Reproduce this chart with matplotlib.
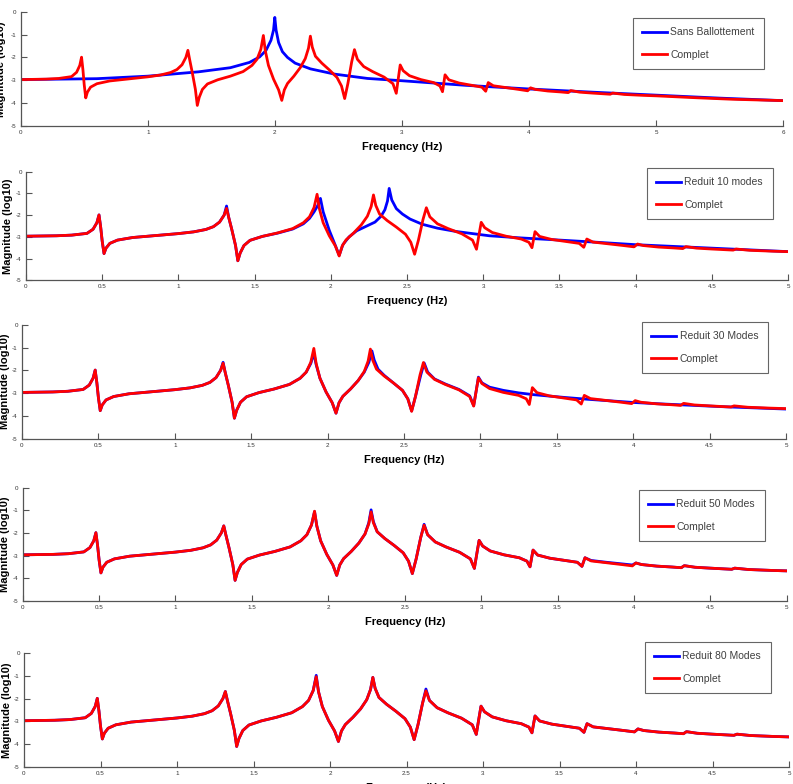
import matplotlib
matplotlib.use('Agg')
import matplotlib.pyplot as plt
from matplotlib.ticker import FuncFormatter

# "Complet" response, shared by every panel
freq_complet = [0.00, 0.20, 0.30, 0.40, 0.44, 0.465, 0.479, 0.490, 0.500, 0.512,
                0.525, 0.55, 0.60, 0.70, 0.80, 0.90, 1.00, 1.10, 1.18, 1.23,
                1.27, 1.30, 1.316, 1.33, 1.35, 1.375, 1.39, 1.405, 1.43, 1.47,
                1.55, 1.65, 1.75, 1.82, 1.86, 1.89, 1.91, 1.925, 1.95, 1.99,
                2.03, 2.055, 2.075, 2.10, 2.15, 2.20, 2.24, 2.265, 2.28, 2.295,
                2.32, 2.37, 2.43, 2.49, 2.525, 2.55, 2.575, 2.605, 2.627, 2.65,
                2.70, 2.77, 2.86, 2.93, 2.956, 2.975, 2.987, 3.01, 3.06, 3.15,
                3.25, 3.30, 3.32, 3.34, 3.37, 3.45, 3.55, 3.63, 3.66, 3.68,
                3.72, 3.82, 3.92, 3.99, 4.013, 4.05, 4.15, 4.25, 4.31, 4.33,
                4.40, 4.50, 4.64, 4.66, 4.75, 4.90, 5.00, 5.30, 5.60, 6.00]
mag_complet = [-2.97, -2.95, -2.92, -2.84, -2.65, -2.35, -1.99, -2.55, -3.20, -3.77,
               -3.52, -3.30, -3.15, -3.03, -2.97, -2.91, -2.85, -2.77, -2.66, -2.53,
               -2.32, -2.00, -1.69, -2.10, -2.65, -3.40, -4.10, -3.75, -3.40, -3.16,
               -2.98, -2.82, -2.62, -2.35, -2.08, -1.65, -1.04, -1.70, -2.35, -2.95,
               -3.42, -3.88, -3.42, -3.14, -2.82, -2.45, -2.05, -1.60, -1.07, -1.55,
               -1.95, -2.25, -2.55, -2.88, -3.25, -3.80, -3.15, -2.20, -1.66, -2.08,
               -2.40, -2.62, -2.86, -3.15, -3.57, -2.80, -2.33, -2.58, -2.80, -2.97,
               -3.10, -3.25, -3.50, -2.76, -2.98, -3.12, -3.22, -3.30, -3.48, -3.10,
               -3.24, -3.32, -3.40, -3.46, -3.33, -3.40, -3.47, -3.51, -3.54, -3.45,
               -3.52, -3.56, -3.61, -3.56, -3.62, -3.66, -3.68, -3.76, -3.83, -3.89]

# Sans Ballottement
freq_sans = [0.0, 0.6, 1.0, 1.4, 1.65, 1.80, 1.88, 1.93, 1.97, 1.99,
             2.0, 2.01, 2.03, 2.06, 2.10, 2.16, 2.28, 2.47, 2.73, 3.0,
             3.5, 4.0, 4.5, 5.0, 5.5, 6.0]
mag_sans = [-2.97, -2.93, -2.82, -2.63, -2.45, -2.22, -1.98, -1.70, -1.25, -0.80,
            -0.25, -0.80, -1.35, -1.75, -2.00, -2.25, -2.50, -2.73, -2.92, -3.02,
            -3.22, -3.38, -3.52, -3.65, -3.78, -3.89]

# Reduit 10 modes
freq_r10 = [0.00, 0.20, 0.30, 0.40, 0.44, 0.465, 0.479, 0.490, 0.500, 0.512,
            0.525, 0.55, 0.60, 0.70, 0.80, 0.90, 1.00, 1.10, 1.18, 1.23,
            1.27, 1.30, 1.316, 1.33, 1.35, 1.375, 1.39, 1.405, 1.43, 1.47,
            1.55, 1.65, 1.75, 1.82, 1.86, 1.89, 1.915, 1.932, 1.95, 1.99,
            2.03, 2.055, 2.08, 2.12, 2.17, 2.23, 2.29, 2.33, 2.355, 2.372,
            2.383, 2.40, 2.43, 2.47, 2.52, 2.60, 2.70, 2.82, 3.04, 3.25,
            3.48, 3.75, 4.00, 4.50, 5.00]
mag_r10 = [-2.97, -2.95, -2.92, -2.84, -2.65, -2.35, -1.99, -2.55, -3.20, -3.77,
           -3.52, -3.30, -3.15, -3.03, -2.97, -2.91, -2.85, -2.77, -2.66, -2.53,
           -2.32, -2.00, -1.58, -2.10, -2.65, -3.40, -4.10, -3.75, -3.40, -3.16,
           -2.98, -2.83, -2.64, -2.40, -2.15, -1.85, -1.55, -1.23, -1.85, -2.70,
           -3.40, -3.85, -3.35, -3.00, -2.72, -2.52, -2.32, -2.05, -1.75, -1.35,
           -0.77, -1.30, -1.70, -1.95, -2.18, -2.42, -2.60, -2.75, -2.95, -3.05,
           -3.14, -3.25, -3.36, -3.52, -3.68]

# Reduit 30 Modes
freq_r30 = [0.00, 0.20, 0.30, 0.40, 0.44, 0.465, 0.479, 0.490, 0.500, 0.512,
            0.525, 0.55, 0.60, 0.70, 0.80, 0.90, 1.00, 1.10, 1.18, 1.23,
            1.27, 1.30, 1.316, 1.33, 1.35, 1.375, 1.39, 1.405, 1.43, 1.47,
            1.55, 1.65, 1.75, 1.82, 1.86, 1.89, 1.91, 1.925, 1.95, 1.99,
            2.03, 2.055, 2.075, 2.10, 2.15, 2.20, 2.24, 2.27, 2.29, 2.305,
            2.33, 2.37, 2.43, 2.49, 2.525, 2.55, 2.575, 2.61, 2.632, 2.655,
            2.70, 2.77, 2.86, 2.93, 2.956, 2.975, 2.987, 3.01, 3.06, 3.15,
            3.25, 3.35, 3.45, 3.55, 3.70, 3.85, 4.00, 4.20, 4.40, 4.60,
            4.80, 5.00]
mag_r30 = [-2.97, -2.95, -2.92, -2.84, -2.65, -2.35, -1.99, -2.55, -3.20, -3.77,
           -3.52, -3.30, -3.15, -3.03, -2.97, -2.91, -2.85, -2.77, -2.66, -2.53,
           -2.32, -2.00, -1.65, -2.10, -2.65, -3.40, -4.10, -3.75, -3.40, -3.16,
           -2.98, -2.82, -2.62, -2.35, -2.08, -1.70, -1.25, -1.75, -2.35, -2.95,
           -3.42, -3.88, -3.42, -3.14, -2.82, -2.45, -2.08, -1.65, -1.15, -1.55,
           -1.95, -2.22, -2.55, -2.88, -3.25, -3.78, -3.15, -2.20, -1.68, -2.08,
           -2.38, -2.60, -2.84, -3.12, -3.55, -2.80, -2.30, -2.55, -2.74, -2.88,
           -2.99, -3.07, -3.13, -3.19, -3.27, -3.34, -3.41, -3.48, -3.54, -3.60,
           -3.65, -3.70]

# Reduit 50 Modes (same grid as Complet)
mag_r50 = [-2.97, -2.95, -2.92, -2.84, -2.65, -2.35, -1.99, -2.55, -3.20, -3.77,
           -3.52, -3.30, -3.15, -3.03, -2.97, -2.91, -2.85, -2.77, -2.66, -2.53,
           -2.32, -2.00, -1.69, -2.10, -2.65, -3.40, -4.10, -3.75, -3.40, -3.16,
           -2.98, -2.82, -2.62, -2.35, -2.08, -1.65, -1.06, -1.70, -2.35, -2.95,
           -3.42, -3.88, -3.42, -3.14, -2.82, -2.45, -2.05, -1.55, -0.98, -1.50,
           -1.95, -2.25, -2.55, -2.88, -3.25, -3.80, -3.15, -2.20, -1.62, -2.08,
           -2.40, -2.62, -2.86, -3.15, -3.57, -2.80, -2.33, -2.58, -2.80, -2.97,
           -3.10, -3.25, -3.50, -2.76, -2.98, -3.12, -3.22, -3.30, -3.48, -3.10,
           -3.22, -3.30, -3.37, -3.42, -3.33, -3.40, -3.47, -3.51, -3.54, -3.45,
           -3.52, -3.56, -3.61, -3.56, -3.62, -3.66, -3.68, -3.76, -3.83, -3.89]

# Reduit 80 Modes (same grid as Complet)
mag_r80 = [-2.97, -2.95, -2.92, -2.84, -2.65, -2.35, -1.99, -2.55, -3.20, -3.77,
           -3.52, -3.30, -3.15, -3.03, -2.97, -2.91, -2.85, -2.77, -2.66, -2.53,
           -2.32, -2.00, -1.69, -2.10, -2.65, -3.40, -4.10, -3.75, -3.40, -3.16,
           -2.98, -2.82, -2.62, -2.35, -2.08, -1.65, -0.98, -1.70, -2.35, -2.95,
           -3.42, -3.88, -3.42, -3.14, -2.82, -2.45, -2.05, -1.60, -1.07, -1.55,
           -1.95, -2.25, -2.55, -2.88, -3.25, -3.80, -3.15, -2.20, -1.58, -2.08,
           -2.40, -2.62, -2.86, -3.15, -3.57, -2.80, -2.33, -2.58, -2.80, -2.97,
           -3.10, -3.25, -3.50, -2.76, -2.98, -3.12, -3.22, -3.30, -3.48, -3.10,
           -3.24, -3.32, -3.40, -3.46, -3.33, -3.40, -3.47, -3.51, -3.54, -3.45,
           -3.52, -3.56, -3.61, -3.56, -3.62, -3.66, -3.68, -3.76, -3.83, -3.89]

blue_labels = ['Sans Ballottement', 'Reduit 10 modes', 'Reduit 30 Modes',
               'Reduit 50 Modes', 'Reduit 80 Modes']
blue_freqs = [freq_sans, freq_r10, freq_r30, freq_complet, freq_complet]
blue_mags = [mag_sans, mag_r10, mag_r30, mag_r50, mag_r80]
x_max = [6, 5, 5, 5, 5]
x_step = [1, 0.5, 0.5, 0.5, 0.5]
y_ticks = [-5, -4, -3, -2, -1, 0]

plt.rcParams['font.family'] = ['Liberation Sans', 'DejaVu Sans']
plt.rcParams['axes.unicode_minus'] = False

W, H = 793, 784
fig = plt.figure(figsize=(W / 100, H / 100), dpi=100)

# axes boxes in pixels: left, top, right, bottom
boxes = [(20.7, 11.7, 783, 126), (26, 171.7, 788, 280.3), (22, 324.7, 786, 438.7),
         (22.7, 487.7, 786.7, 600.7), (24, 653, 789, 767)]
legend_xy = [(633, 18), (647, 168), (642, 322), (639, 490), (645, 642)]
ylab_off = [15, 13, 12, 13, 12]

axis_grey = '#555555'
fmt = FuncFormatter(lambda v, p: '%g' % v)

for i in range(5):
    l, t, r, b = boxes[i]
    ax = fig.add_axes([l / W, 1 - b / H, (r - l) / W, (b - t) / H])
    ax.plot(blue_freqs[i], blue_mags[i], color='#0000ff', lw=2, label=blue_labels[i])
    ax.plot(freq_complet, mag_complet, color='#ff0000', lw=2, label='Complet')
    ax.set_xlim(0, x_max[i])
    ax.set_ylim(-5, 0)
    n = int(round(x_max[i] / x_step[i]))
    ax.set_xticks([k * x_step[i] for k in range(n + 1)])
    ax.set_yticks(y_ticks)
    ax.xaxis.set_major_formatter(fmt)
    ax.yaxis.set_major_formatter(fmt)
    for s in ['top', 'right']:
        ax.spines[s].set_visible(False)
    for s in ['left', 'bottom']:
        ax.spines[s].set_color(axis_grey)
        ax.spines[s].set_linewidth(0.9)
    ax.tick_params(direction='in', length=4, width=0.8, color=axis_grey,
                   labelsize=4.5, labelcolor='#333333', pad=3)
    ax.set_xlabel('Frequency (Hz)', fontsize=8, fontweight='bold', va='top')
    ax.xaxis.set_label_coords(0.5, -16 / (b - t))
    ax.set_ylabel('Magnitude (log10)', fontsize=8, fontweight='bold')
    ax.yaxis.set_label_coords(-ylab_off[i] / (r - l), 0.5)
    lx, ly = legend_xy[i]
    leg = ax.legend(loc='upper left', bbox_to_anchor=(lx / W, 1 - ly / H),
                    bbox_transform=fig.transFigure, fontsize=7.5, fancybox=False,
                    framealpha=1, edgecolor='#666666', borderpad=0.9,
                    labelspacing=1.2, handlelength=2.4, handletextpad=0.3,
                    borderaxespad=0)
    leg.get_frame().set_linewidth(0.8)
    for txt in leg.get_texts():
        txt.set_color('#404040')

fig.savefig('out.png', dpi=100)
